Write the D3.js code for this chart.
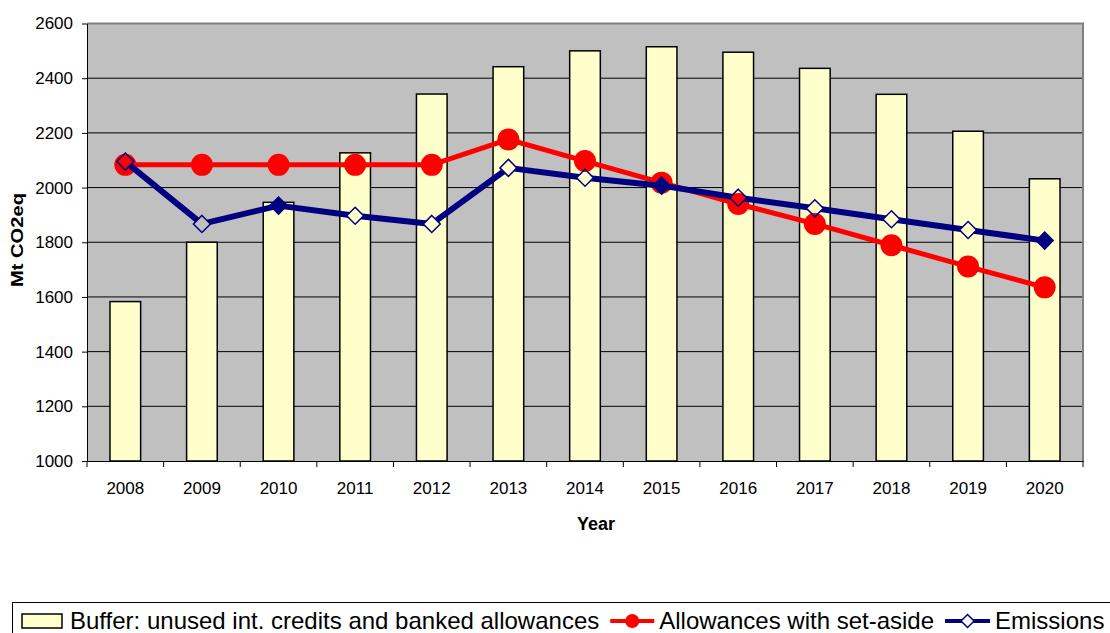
<!DOCTYPE html>
<html>
<head>
<meta charset="utf-8">
<script src="https://cdn.jsdelivr.net/npm/d3@7"></script>
<style>
  body { margin: 0; background: #fff; }
  svg { display: block; font-family: Arial, "Liberation Sans", sans-serif; }
  .axis path, .axis line { stroke: #000; }
</style>
</head>
<body>
<svg id="chart" width="1110" height="633"></svg>
<script>
var years = ["2008", "2009", "2010", "2011", "2012", "2013", "2014", "2015", "2016", "2017", "2018", "2019", "2020"];
var buffer = [1583, 1800, 1946, 2127, 2342, 2442, 2500, 2515, 2495, 2436, 2341, 2206, 2032];
var allowances = [2083, 2083, 2083, 2083, 2083, 2176, 2097, 2018, 1940, 1867, 1789, 1711, 1635];
var emissions = [2095, 1867, 1934, 1897, 1867, 2072, 2036, 2007, 1963, 1924, 1884, 1845, 1806];
var emissionsFilled = ["2010", "2015", "2020"];
var yTicks = [1000, 1200, 1400, 1600, 1800, 2000, 2200, 2400, 2600];
var seriesNames = ["Buffer: unused int. credits and banked allowances", "Allowances with set-aside", "Emissions"];

function drawChart() {
    var svg = d3.select("#chart"),
        pLeft = 87, pRight = 1083, pTop = 23.5, pBottom = 461;

    var x = d3.scaleBand().domain(years).range([pLeft, pRight]).padding(0),
        y = d3.scaleLinear().domain([1000, 2600]).range([pBottom, pTop]);

    var cx = function(d) { return x(d) + x.bandwidth() / 2; };
    var barW = x.bandwidth() * 0.4;

    // plot background
    svg.append("rect")
        .attr("x", pLeft).attr("y", pTop)
        .attr("width", pRight - pLeft).attr("height", pBottom - pTop)
        .attr("fill", "#c0c0c0");

    // gridlines
    svg.append("g").selectAll("line")
        .data(yTicks.slice(1, -1))
        .enter().append("line")
        .attr("x1", pLeft).attr("x2", pRight)
        .attr("y1", function(d) { return y(d); })
        .attr("y2", function(d) { return y(d); })
        .attr("stroke", "#000").attr("stroke-width", 1);

    // plot border top / right
    svg.append("path")
        .attr("d", "M" + pLeft + "," + pTop + "H" + pRight + "V" + pBottom)
        .attr("fill", "none").attr("stroke", "#808080").attr("stroke-width", 2);

    // bars
    svg.append("g").selectAll("rect")
        .data(years)
        .enter().append("rect")
        .attr("x", function(d) { return cx(d) - barW / 2; })
        .attr("y", function(d, i) { return y(buffer[i]); })
        .attr("width", barW)
        .attr("height", function(d, i) { return pBottom - y(buffer[i]); })
        .attr("fill", "#ffffcc")
        .attr("stroke", "#000").attr("stroke-width", 1.5);

    // axes
    var yAxis = svg.append("g")
        .attr("class", "axis")
        .attr("transform", "translate(" + pLeft + ",0)")
        .call(d3.axisLeft(y).tickValues(yTicks).tickFormat(d3.format("d")).tickSize(5).tickPadding(9).tickSizeOuter(0));
    yAxis.selectAll("text").style("font-size", "17px").attr("fill", "#000");

    var xAxis = svg.append("g")
        .attr("class", "axis")
        .attr("transform", "translate(0," + pBottom + ")")
        .call(d3.axisBottom(x).tickSize(0).tickPadding(21).tickSizeOuter(0));
    xAxis.selectAll("text").style("font-size", "17px").attr("fill", "#000");

    // category boundary ticks
    svg.append("g").selectAll("line")
        .data(d3.range(years.length + 1))
        .enter().append("line")
        .attr("x1", function(i) { return pLeft + i * x.bandwidth(); })
        .attr("x2", function(i) { return pLeft + i * x.bandwidth(); })
        .attr("y1", pBottom).attr("y2", pBottom + 6)
        .attr("stroke", "#000");

    // axis titles
    svg.append("text")
        .attr("x", 596).attr("y", 530)
        .attr("text-anchor", "middle")
        .style("font-size", "18px").style("font-weight", "bold")
        .text("Year");

    svg.append("text")
        .attr("transform", "translate(23,240) rotate(-90)")
        .attr("text-anchor", "middle")
        .attr("textLength", 94).attr("lengthAdjust", "spacingAndGlyphs")
        .style("font-size", "17px").style("font-weight", "bold")
        .text("Mt CO2eq");

    // allowances line
    var line = d3.line()
        .x(function(d) { return cx(d[0]); })
        .y(function(d) { return y(d[1]); });

    svg.append("path")
        .datum(d3.zip(years, allowances))
        .attr("d", line)
        .attr("fill", "none").attr("stroke", "#ff0000").attr("stroke-width", 5)
        .attr("stroke-linejoin", "round");

    svg.append("g").selectAll("circle")
        .data(d3.zip(years, allowances))
        .enter().append("circle")
        .attr("cx", function(d) { return cx(d[0]); })
        .attr("cy", function(d) { return y(d[1]); })
        .attr("r", 11)
        .attr("fill", "#ff0000");

    // emissions line, cut out inside hollow diamonds
    var dia = function(r) { return "M0," + (-r) + "L" + r + ",0L0," + r + "L" + (-r) + ",0Z"; };
    var emData = d3.zip(years, emissions);

    var mask = svg.append("defs").append("mask").attr("id", "emMask")
        .attr("maskUnits", "userSpaceOnUse")
        .attr("x", 0).attr("y", 0).attr("width", 1110).attr("height", 633);
    mask.append("rect").attr("width", 1110).attr("height", 633).attr("fill", "#fff");
    mask.selectAll("path")
        .data(emData.filter(function(d) { return emissionsFilled.indexOf(d[0]) < 0; }))
        .enter().append("path")
        .attr("transform", function(d) { return "translate(" + cx(d[0]) + "," + y(d[1]) + ")"; })
        .attr("d", dia(8))
        .attr("fill", "#000");

    svg.append("path")
        .datum(emData)
        .attr("d", line)
        .attr("mask", "url(#emMask)")
        .attr("fill", "none").attr("stroke", "#000080").attr("stroke-width", 6)
        .attr("stroke-linejoin", "round");

    svg.append("g").selectAll("path")
        .data(emData)
        .enter().append("path")
        .attr("transform", function(d) { return "translate(" + cx(d[0]) + "," + y(d[1]) + ")"; })
        .attr("d", dia(8.5))
        .attr("fill", function(d) { return emissionsFilled.indexOf(d[0]) < 0 ? "none" : "#000080"; })
        .attr("stroke", "#000080").attr("stroke-width", 1.5);

    // legend
    var lg = svg.append("g");
    lg.append("rect")
        .attr("x", 12.5).attr("y", 602.5)
        .attr("width", 1200).attr("height", 100)
        .attr("fill", "#fff").attr("stroke", "#000");

    var ly = 621, lbase = 629;
    lg.append("rect")
        .attr("x", 22).attr("y", 614).attr("width", 40).attr("height", 14)
        .attr("fill", "#ffffcc").attr("stroke", "#000").attr("stroke-width", 1.5);

    var t0 = lg.append("text").attr("x", 70).attr("y", lbase)
        .style("font-size", "24px").text(seriesNames[0]);
    var sx1 = 70 + t0.node().getComputedTextLength() + 11;

    lg.append("line").attr("x1", sx1).attr("x2", sx1 + 44).attr("y1", ly).attr("y2", ly)
        .attr("stroke", "#ff0000").attr("stroke-width", 4);
    lg.append("circle").attr("cx", sx1 + 22).attr("cy", ly).attr("r", 7).attr("fill", "#ff0000");

    var t1 = lg.append("text").attr("x", sx1 + 49).attr("y", lbase)
        .style("font-size", "24px").text(seriesNames[1]);
    var sx2 = sx1 + 49 + t1.node().getComputedTextLength() + 11;

    lg.append("line").attr("x1", sx2).attr("x2", sx2 + 45).attr("y1", ly).attr("y2", ly)
        .attr("stroke", "#000080").attr("stroke-width", 4);
    lg.append("path")
        .attr("transform", "translate(" + (sx2 + 22.5) + "," + ly + ")")
        .attr("d", dia(6.5))
        .attr("fill", "#fff").attr("stroke", "#000080").attr("stroke-width", 1.5);

    lg.append("text").attr("x", sx2 + 50).attr("y", lbase)
        .style("font-size", "24px").text(seriesNames[2]);
}

drawChart();
</script>
</body>
</html>
